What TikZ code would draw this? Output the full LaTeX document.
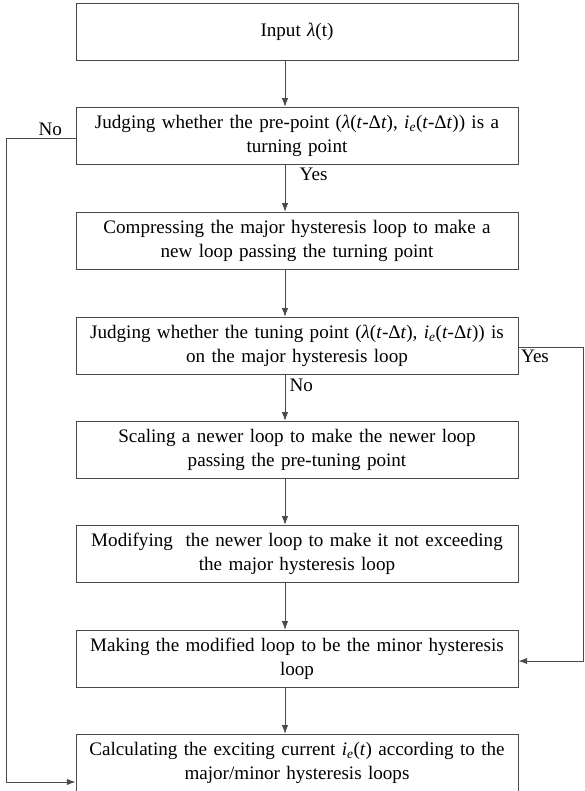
\documentclass[tikz,border=0pt]{standalone}
\usepackage{fontspec}
\setmainfont{Liberation Serif}
\usepackage{tikz}
\usetikzlibrary{arrows.meta, positioning, calc}
\definecolor{linec}{HTML}{4A4A4A}
\newcommand{\lam}{\textit{λ}}
\newcommand{\dt}{(\textit{t}-Δ\textit{t})}
\newcommand{\ie}{\textit{i}\textsubscript{\textit{e}}}

\begin{document}
\begin{tikzpicture}[x=0.03cm, y=-0.03cm, >={Latex[length=2.6mm,width=1.9mm]},
      line width=0.8pt, font=\fontsize{16.3}{20.5}\selectfont,
      flowbox/.style={rectangle, draw=linec, minimum width=13.26cm,
        minimum height=1.72cm, text width=13cm, align=center, inner sep=0pt},
      lbl/.style={inner sep=1pt}]
    \useasboundingbox (0,0) rectangle (584,791);
    \coordinate (ax) at (285,0);
    \node[flowbox] (b1) at (297,32) {Input \lam(t)};
    \node[flowbox] (b2) at (297,136) {Judging whether the pre-point (\lam\dt, \ie\dt) is a\\ turning point};
    \node[flowbox] (b3) at (297,241) {Compressing the major hysteresis loop to make a\\ new loop passing the turning point};
    \node[flowbox] (b4) at (297,346) {Judging whether the tuning point (\lam\dt, \ie\dt) is\\ on the major hysteresis loop};
    \node[flowbox] (b5) at (297,450) {Scaling a newer loop to make the newer loop\\ passing the pre-tuning point};
    \node[flowbox] (b6) at (297,554) {Modifying\ \ the newer loop to make it not exceeding\\ the major hysteresis loop};
    \node[flowbox] (b7) at (297,659) {Making the modified loop to be the minor hysteresis\\ loop};
    \node[flowbox] (b8) at (297,763) {Calculating the exciting current \ie(\textit{t}) according to the\\ major/minor hysteresis loops};
    % main column
    \foreach \a/\b in {b1/b2, b2/b3, b3/b4, b4/b5, b5/b6, b6/b7, b7/b8}
      \draw[->, linec] (\a.south -| ax) -- (\b.north -| ax);
    % side branches
    \coordinate (lt) at (6,138);
    \coordinate (lb) at (6,782);
    \coordinate (rt) at (583,347);
    \coordinate (rb) at (583,661);
    \draw[->, linec] (b2.west |- lt) -- (lt) -- (lb) -- (b8.west |- lb);
    \draw[->, linec] (b4.east |- rt) -- (rt) -- (rb) -- (b7.east |- rb);
    \node[lbl, anchor=south east] at ($(b2.west |- lt)+(-12,-1)$) {No};
    \node[lbl, anchor=north west] at ($(b2.south -| ax)+(13,1)$) {Yes};
    \node[lbl, anchor=north west] at ($(b4.east |- rt)+(1,1)$) {Yes};
    \node[lbl, anchor=north west] at ($(b4.south -| ax)+(3,2)$) {No};
  \end{tikzpicture}
\end{document}
